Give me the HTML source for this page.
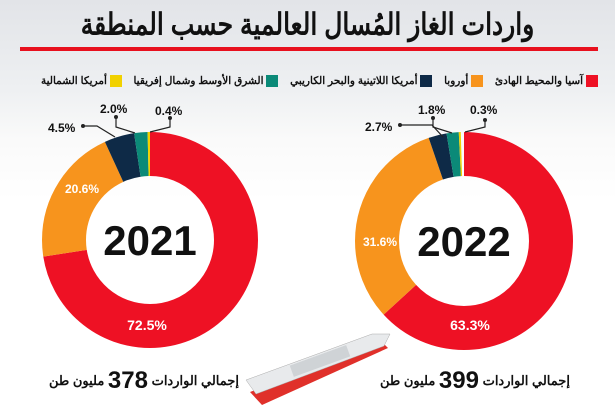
<!DOCTYPE html>
<html><head><meta charset="utf-8"><style>
html,body{margin:0;padding:0}
body{width:615px;height:410px;overflow:hidden;position:relative;background:linear-gradient(#e2e4e8 0,#eef0f2 90px,#fafafa 140px,#fff 200px);font-family:"Liberation Sans","Noto Sans CJK SC",sans-serif}
.t{position:absolute;white-space:nowrap}
.sq{display:inline-block;width:12px;height:12px;vertical-align:middle}
</style></head><body>
<div class="t" style="left:0;width:615px;top:10px;text-align:center;font-size:25px;line-height:30px;font-weight:bold;color:#111;transform:scaleY(1.2)" dir="rtl">واردات الغاز المُسال العالمية حسب المنطقة</div>
<div style="position:absolute;left:20px;top:47px;width:578px;height:4px;background:#e8101e"></div>
<div class="t" dir="rtl" style="right:17px;top:75px;font-size:10.5px;font-weight:bold;color:#111">
<span class="sq" style="background:#ee1124"></span> آسيا والمحيط الهادئ &nbsp;&nbsp;
<span class="sq" style="background:#f7941d"></span> أوروبا &nbsp;&nbsp;
<span class="sq" style="background:#0e2a47"></span> أمريكا اللاتينية والبحر الكاريبي &nbsp;&nbsp;
<span class="sq" style="background:#0b8a78"></span> الشرق الأوسط وشمال إفريقيا &nbsp;&nbsp;
<span class="sq" style="background:#f1d100"></span> أمريكا الشمالية</div>
<svg width="615" height="410" style="position:absolute;left:0;top:0">
<g transform="rotate(-90 150 240)" fill="none" stroke-width="44">
<circle cx="150" cy="240" r="86" stroke="#ee1124" stroke-dasharray="391.8 1000" stroke-dashoffset="0"/>
<circle cx="150" cy="240" r="86" stroke="#f7941d" stroke-dasharray="111.3 1000" stroke-dashoffset="-391.8"/>
<circle cx="150" cy="240" r="86" stroke="#0e2a47" stroke-dasharray="24.3 1000" stroke-dashoffset="-503.1"/>
<circle cx="150" cy="240" r="86" stroke="#0b8a78" stroke-dasharray="10.8 1000" stroke-dashoffset="-527.4"/>
<circle cx="150" cy="240" r="86" stroke="#f1d100" stroke-dasharray="2.2 1000" stroke-dashoffset="-538.2"/>
</g>
<g transform="rotate(-90 464 241)" fill="none" stroke-width="44">
<circle cx="464" cy="241" r="87" stroke="#ee1124" stroke-dasharray="345.3 1000" stroke-dashoffset="0"/>
<circle cx="464" cy="241" r="87" stroke="#f7941d" stroke-dasharray="172.4 1000" stroke-dashoffset="-345.3"/>
<circle cx="464" cy="241" r="87" stroke="#0e2a47" stroke-dasharray="14.7 1000" stroke-dashoffset="-517.7"/>
<circle cx="464" cy="241" r="87" stroke="#0b8a78" stroke-dasharray="9.8 1000" stroke-dashoffset="-532.4"/>
<circle cx="464" cy="241" r="87" stroke="#f1d100" stroke-dasharray="1.6 1000" stroke-dashoffset="-542.2"/>
</g>
<g stroke="#222" stroke-width="1.2" fill="none">
<polyline points="83,126 97,126 115,137"/><polyline points="116,117 116,127 135,133"/><polyline points="170,118 170,127 150,132"/>
<polyline points="400,125 432,125 443,137"/><polyline points="433,118 433,127 452,133"/><polyline points="485,120 485,127 465,132"/>
</g>
<g fill="#222"><circle cx="83" cy="126" r="2"/><circle cx="116" cy="117" r="2"/><circle cx="170" cy="118" r="2"/>
<circle cx="400" cy="125" r="2"/><circle cx="433" cy="118" r="2"/><circle cx="485" cy="120" r="2"/></g>
<g font-family="Liberation Sans" font-weight="bold" font-size="12" fill="#111">
<text x="48" y="132">4.5%</text><text x="100" y="113">2.0%</text><text x="155" y="115">0.4%</text>
<text x="365" y="131">2.7%</text><text x="418" y="114">1.8%</text><text x="470" y="114">0.3%</text>
</g>
<g font-family="Liberation Sans" font-weight="bold" fill="#fff" font-size="14" text-anchor="middle">
<text x="147" y="330">72.5%</text><text x="470" y="330">63.3%</text>
<text x="82" y="193" font-size="12">20.6%</text><text x="380" y="246" font-size="12">31.6%</text>
</g>
<g font-family="Liberation Sans" font-weight="bold" fill="#111" font-size="42" text-anchor="middle">
<text x="150" y="255">2021</text><text x="464" y="256">2022</text>
</g>
<polygon points="250,392 382,342 388,348 262,405" fill="#e0302a"/>
<polygon points="246,380 372,334 390,334 384,346 256,394" fill="#e8eaec" stroke="#aaa" stroke-width="0.5"/>
<rect x="290" y="355" width="60" height="12" fill="#cfd3d6" transform="rotate(-20 320 361)"/>
</svg>
<div class="t" dir="rtl" style="left:49px;top:367px;font-size:13px;font-weight:bold;color:#111">إجمالي الواردات <span style="font-size:24px;vertical-align:-3px">378</span> مليون طن</div>
<div class="t" dir="rtl" style="left:380px;top:367px;font-size:13px;font-weight:bold;color:#111">إجمالي الواردات <span style="font-size:24px;vertical-align:-3px">399</span> مليون طن</div>
</body></html>
